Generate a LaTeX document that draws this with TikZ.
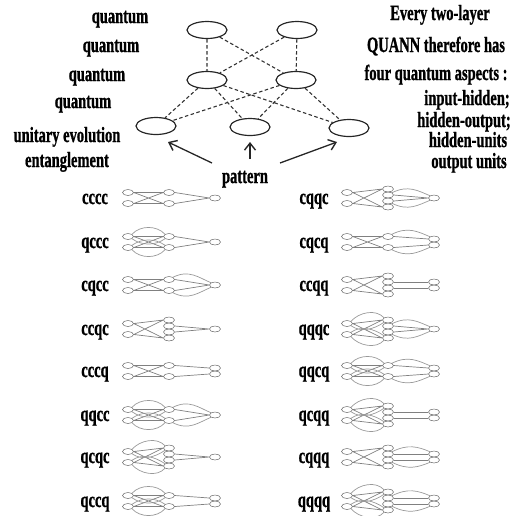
\documentclass[tikz,border=0pt]{standalone}
\usepackage{fontspec}
\usepackage{graphicx}
\setmainfont{Liberation Serif}[BoldFeatures={FakeBold=1.2}]
\usetikzlibrary{arrows.meta,shapes.geometric}
\newcommand{\tx}[1]{\scalebox{1}[1.5]{#1}}
\tikzset{
  lbl/.style={font=\fontsize{14.5}{17}\selectfont\bfseries, inner sep=0pt, anchor=base},
  big/.style={draw=black!85, ellipse, minimum width=40pt, minimum height=17pt, line width=1.2pt, inner sep=0pt},
  dsh/.style={dash pattern=on 3.5pt off 2.5pt, line width=1.1pt, draw=black!80},
  arr/.style={-{Straight Barb[length=7pt,width=11pt,line width=1.4pt]}, line width=1.3pt, draw=black!85},
  sm/.style={draw=black!60, ellipse, minimum width=11pt, minimum height=6pt, inner sep=0pt, line width=0.5pt},
  wire/.style={draw=black!50, line width=0.7pt},
  qwire/.style={draw=black!40, line width=0.7pt},
}
\newcommand{\qnet}[7]{%
\begin{scope}[shift={(#2,#3)}]
\node[sm] (#1i1) at (0,-5.5) {};
\node[sm] (#1i2) at (0,5.5) {};
\ifnum#6=1
 \node[sm] (#1h1) at (41,-9) {};
 \node[sm] (#1h2) at (41,-3) {};
 \node[sm] (#1h3) at (41,3) {};
 \node[sm] (#1h4) at (41,9) {};
 \def\ha{#1h2}\def\hb{#1h3}%
\else
 \node[sm] (#1h1) at (41,-5.5) {};
 \node[sm] (#1h4) at (41,5.5) {};
 \def\ha{#1h1}\def\hb{#1h4}%
\fi
\ifnum#7=1
 \node[sm] (#1o1) at (87,-3) {};
 \node[sm] (#1o2) at (87,3) {};
 \def\oa{#1o1}\def\ob{#1o2}%
\else
 \node[sm] (#1o1) at (87,0) {};
 \def\oa{#1o1}\def\ob{#1o1}%
\fi
\draw[wire] (#1i1.east) -- (#1h1.west) (#1i1.east) -- (#1h4.west)
            (#1i2.east) -- (#1h1.west) (#1i2.east) -- (#1h4.west);
\draw[wire] (\ha.east) -- (\oa.west) (\hb.east) -- (\ob.west);
\ifnum#4=1
 \draw[qwire] (#1i1.north east) .. controls +(8,-9) and +(-8,-9) .. (#1h1.north west)
   (#1i2.south east) .. controls +(8,9) and +(-8,9) .. (#1h4.south west)
   (#1i1.south east) .. controls +(10,7) and +(-10,7) .. (#1h1.south west)
   (#1i2.north east) .. controls +(10,-7) and +(-10,-7) .. (#1h4.north west);
\fi
\ifnum#5=1
 \draw[qwire] (\ha.north east) .. controls +(16,-8) and +(-12,-5) .. (\oa.north west)
   (\hb.south east) .. controls +(16,8) and +(-12,5) .. (\ob.south west);
\fi
\end{scope}}
\begin{document}
\begin{tikzpicture}[x=1pt,y=-1pt]
\useasboundingbox (0,0) rectangle (518,515);
% top network
\node[big] (t1) at (207,30) {};
\node[big] (t2) at (297,30) {};
\node[big] (m1) at (207,80) {};
\node[big] (m2) at (296,80) {};
\node[big] (b1) at (156,126) {};
\node[big] (b2) at (250,127) {};
\node[big] (b3) at (349,128) {};
\draw[dsh] (t1) -- (m1) (t1) -- (m2) (t2) -- (m1) (t2) -- (m2);
\draw[dsh] (m1) -- (b1) (m1) -- (b2) (m1) -- (b3)
           (m2) -- (b1) (m2) -- (b2) (m2) -- (b3);
\coordinate (p1) at (212,163);
\coordinate (p2) at (250,159);
\coordinate (p3) at (280,163);
\coordinate (e1) at (168,142);
\coordinate (e2) at (250,142);
\coordinate (e3) at (337,142);
\draw[arr] (p1) -- (e1);
\draw[arr] (p2) -- (e2);
\draw[arr] (p3) -- (e3);
% left texts
\node[lbl] (q1) at (120,23) {\tx{quantum}};
\node[lbl] (q2) at (111,52) {\tx{quantum}};
\node[lbl] (q3) at (97,81) {\tx{quantum}};
\node[lbl] (q4) at (83,108) {\tx{quantum}};
\node[lbl] (ue) at (67,142) {\tx{unitary evolution}};
\node[lbl] (en) at (67,167) {\tx{entanglement}};
\node[lbl] (pat) at (245,183) {\tx{pattern}};
% right texts
\node[lbl] (r1) at (440,20) {\tx{Every two-layer}};
\node[lbl] (r2) at (436,52) {\tx{QUANN therefore has}};
\node[lbl] (r3) at (436,80) {\tx{four quantum aspects :}};
\node[lbl] (r4) at (467,105) {\tx{input-hidden;}};
\node[lbl] (r5) at (464,127) {\tx{hidden-output;}};
\node[lbl] (r6) at (468,147) {\tx{hidden-units}};
\node[lbl] (r7) at (469,168) {\tx{output units}};
% icons, left column
\node[lbl] (L1) at (95,204) {\tx{cccc}};  \qnet{A}{128}{198}{0}{0}{0}{0}
\node[lbl] (L2) at (95,248) {\tx{qccc}};  \qnet{B}{128}{242}{1}{0}{0}{0}
\node[lbl] (L3) at (95,291) {\tx{cqcc}};  \qnet{C}{128}{285}{0}{1}{0}{0}
\node[lbl] (L4) at (95,335) {\tx{ccqc}};  \qnet{D}{128}{329}{0}{0}{1}{0}
\node[lbl] (L5) at (95,377) {\tx{cccq}};  \qnet{E}{128}{371}{0}{0}{0}{1}
\node[lbl] (L6) at (95,421) {\tx{qqcc}};  \qnet{F}{128}{415}{1}{1}{0}{0}
\node[lbl] (L7) at (95,463) {\tx{qcqc}};  \qnet{G}{128}{457}{1}{0}{1}{0}
\node[lbl] (L8) at (95,507) {\tx{qccq}};  \qnet{H}{128}{501}{1}{0}{0}{1}
% icons, right column
\node[lbl] (R1) at (314,204) {\tx{cqqc}};  \qnet{I}{347}{198}{0}{1}{1}{0}
\node[lbl] (R2) at (314,248) {\tx{cqcq}};  \qnet{J}{347}{242}{0}{1}{0}{1}
\node[lbl] (R3) at (314,291) {\tx{ccqq}};  \qnet{K}{347}{285}{0}{0}{1}{1}
\node[lbl] (R4) at (314,335) {\tx{qqqc}};  \qnet{M}{347}{329}{1}{1}{1}{0}
\node[lbl] (R5) at (314,377) {\tx{qqcq}};  \qnet{N}{347}{371}{1}{1}{0}{1}
\node[lbl] (R6) at (314,421) {\tx{qcqq}};  \qnet{O}{347}{415}{1}{0}{1}{1}
\node[lbl] (R7) at (314,463) {\tx{cqqq}};  \qnet{P}{347}{457}{0}{1}{1}{1}
\node[lbl] (R8) at (314,507) {\tx{qqqq}};  \qnet{Q}{347}{501}{1}{1}{1}{1}
\end{tikzpicture}
\end{document}
